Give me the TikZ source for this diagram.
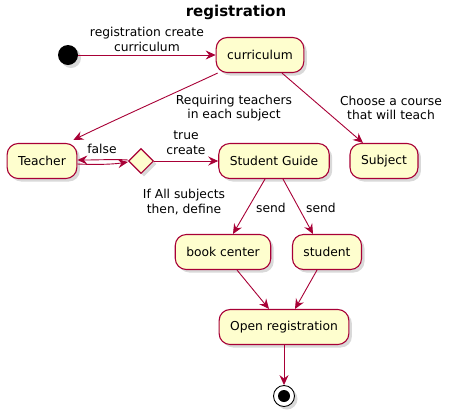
\documentclass[tikz,border=0pt]{standalone}
\usepackage{fontspec}
\setmainfont{DejaVu Sans}
\usetikzlibrary{arrows.meta,shapes.geometric,shadows,positioning}
\definecolor{flowc}{HTML}{A80036}
\definecolor{actc}{HTML}{FEFECE}
\tikzset{
	activity/.style={
		rectangle, rounded corners=11pt, minimum height=35pt, inner xsep=11pt,
		line width=1.1pt, draw=flowc, fill=actc,
		drop shadow={shadow xshift=3pt, shadow yshift=-3pt, opacity=0.3}
	},
	%
	decision/.style={
		diamond, aspect=1, minimum size=25pt, inner sep=0pt,
		line width=1.1pt, draw=flowc, fill=actc,
		drop shadow={shadow xshift=3pt, shadow yshift=-3pt, opacity=0.3}
	},
	%
	startdot/.style={
		circle, minimum size=20pt, inner sep=0pt, fill=black,
		drop shadow={shadow xshift=3pt, shadow yshift=-3pt, opacity=0.3}
	},
	%
	stopring/.style={
		circle, minimum size=21pt, inner sep=0pt, draw=black, line width=0.9pt, fill=white,
		drop shadow={shadow xshift=3pt, shadow yshift=-3pt, opacity=0.3}
	},
	%
	stopdot/.style={
		circle, minimum size=12pt, inner sep=0pt, fill=black
	},
	%
	flow/.style={
		-{Stealth[length=10pt, width=9pt, inset=3.5pt]}, line width=0.9pt, draw=flowc
	},
	%
	lbl/.style={
		align=center, inner sep=0pt
	}
}

\begin{document}
\begin{tikzpicture}[x=1pt, y=-1pt, font=\fontsize{12.3}{14.5}\selectfont]
\useasboundingbox (0,0) rectangle (462,416);

\node(title)[font=\fontsize{15}{17}\selectfont\bfseries] at (236,12) {registration};

\node(start)[startdot] at (68,55) {};
\node(curr)[activity] at (260,55) {curriculum};
\node(teacher)[activity] at (42,161) {Teacher};
\node(dec)[decision] at (141,161) {};
\node(guide)[activity] at (274,161) {Student Guide};
\node(subject)[activity] at (384,161) {Subject};
\node(book)[activity] at (223,252) {book center};
\node(student)[activity] at (327,252) {student};
\node(open)[activity] at (284,327) {Open registration};
\node(stop)[stopring] at (284,396) {};
\node(stopin)[stopdot] at (stop) {};

\draw[flow] (start) -- node[lbl, midway, above=3pt] {registration create\\curriculum} (curr);

\draw[flow] ([xshift=2pt]curr.south west) .. controls (190,86) and (110,122) .. ([xshift=-4pt, yshift=3pt]teacher.north east);
\node(reqlbl)[lbl] at (234,108) {Requiring teachers\\ in each subject};

\draw[flow] ([xshift=22pt]curr.south) -- ([xshift=-21pt]subject.north);
\node(chooselbl)[lbl] at (391,108) {Choose a course\\that will teach};

\draw[flow] ([yshift=-3pt]teacher.east) .. controls (100,165) and (115,164) .. ([yshift=-1pt]dec.west);
\draw[flow] ([yshift=1pt]dec.west) .. controls (115,159) and (100,160) .. ([yshift=1pt]teacher.east);
\node(falselbl)[lbl] at (102,149) {false};

\draw[flow] (dec.east) -- (guide.west);
\node(truelbl)[lbl] at (186,143) {true\\create};
\node(condlbl)[lbl] at (184,202) {If All subjects\\then, define};

\draw[flow] ([xshift=-9pt]guide.south) -- ([xshift=10pt]book.north);
\node(sendl)[lbl] at (271,208) {send};
\draw[flow] ([xshift=9pt]guide.south) -- ([xshift=-14pt]student.north);
\node(sendr)[lbl] at (321,208) {send};

\draw[flow] ([xshift=14pt]book.south) -- ([xshift=-15pt]open.north);
\draw[flow] ([xshift=-10pt]student.south) -- ([xshift=11pt]open.north);

\draw[flow] (open) -- (stop);
\end{tikzpicture}
\end{document}
